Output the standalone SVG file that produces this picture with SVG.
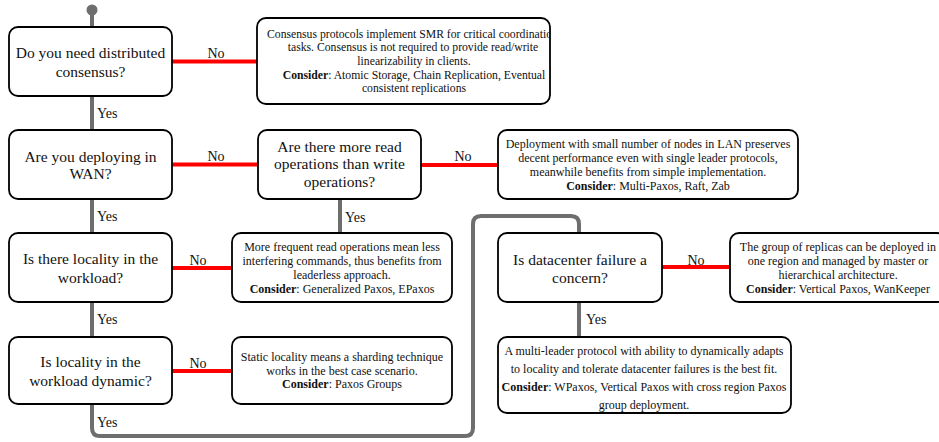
<svg xmlns="http://www.w3.org/2000/svg" width="939" height="442" viewBox="0 0 939 442">
<style>
.box{fill:#fff;stroke:#000;stroke-width:1.8}
.q{font-family:'Liberation Serif','DejaVu Serif',serif;font-size:15.5px;fill:#111;text-anchor:middle}
.d{font-family:'Liberation Serif','DejaVu Serif',serif;font-size:12px;fill:#111;text-anchor:middle}
.s{font-size:11.7px}
.st{text-anchor:start}
.lbl{font-family:'Liberation Serif','DejaVu Serif',serif;font-size:14px;fill:#111}
.no{stroke:#ff0000;stroke-width:4;fill:none}
.yes{stroke:#6e6e6e;stroke-width:4;fill:none}
.b{font-weight:bold}
</style>
<defs>
<clipPath id="clipA1"><rect x="258" y="19" width="291" height="84" rx="8"/></clipPath>
</defs>
<rect width="939" height="442" fill="#fff"/>
<g id="connectors">
<circle cx="92" cy="10" r="5.5" fill="#6e6e6e"/>
<line class="yes" x1="92" y1="10" x2="92" y2="27"/>
<line class="no" x1="172" y1="61.5" x2="257" y2="61.5"/>
<text class="lbl" x="216" y="58" text-anchor="middle">No</text>
<line class="yes" x1="92" y1="96" x2="92" y2="130"/>
<text class="lbl" x="97" y="118">Yes</text>
<line class="no" x1="172" y1="164.5" x2="258" y2="164.5"/>
<text class="lbl" x="216" y="161" text-anchor="middle">No</text>
<line class="no" x1="421" y1="165" x2="498" y2="165"/>
<text class="lbl" x="463" y="161" text-anchor="middle">No</text>
<line class="yes" x1="340" y1="199" x2="340" y2="233"/>
<text class="lbl" x="345" y="221.5">Yes</text>
<line class="yes" x1="92" y1="199" x2="92" y2="233"/>
<text class="lbl" x="97" y="221">Yes</text>
<line class="no" x1="172" y1="268" x2="232" y2="268"/>
<text class="lbl" x="198" y="265" text-anchor="middle">No</text>
<line class="yes" x1="92" y1="302" x2="92" y2="337"/>
<text class="lbl" x="97" y="324">Yes</text>
<line class="no" x1="172" y1="371" x2="232" y2="371"/>
<text class="lbl" x="198" y="368" text-anchor="middle">No</text>
<path class="yes" d="M92,404 V428 Q92,436 100,436 H465 Q473,436 473,428 V224 Q473,216 481,216 H571 Q579,216 579,224 V233"/>
<text class="lbl" x="97" y="427">Yes</text>
<line class="no" x1="662" y1="267" x2="730" y2="267"/>
<text class="lbl" x="696" y="265" text-anchor="middle">No</text>
<line class="yes" x1="579" y1="302" x2="579" y2="337"/>
<text class="lbl" x="586" y="324">Yes</text>
</g>
<g id="q1">
<rect class="box" x="9" y="27" width="163" height="69" rx="9"/>
<text class="q" x="90.5" y="58">Do you need distributed</text>
<text class="q" x="90.5" y="76.5">consensus?</text>
</g>
<g id="a1">
<rect class="box" x="257" y="18" width="293" height="86" rx="9"/>
<g clip-path="url(#clipA1)">
<text class="d s st" x="267" y="37.7">Consensus protocols implement SMR for critical coordination</text>
<text class="d s" x="413" y="51">tasks. Consensus is not required to provide read/write</text>
<text class="d s" x="414" y="64.5">linearizability in clients.</text>
<text class="d s" x="414" y="79"><tspan class="b">Consider</tspan>: Atomic Storage, Chain Replication, Eventual</text>
<text class="d s" x="414" y="91.7">consistent replications</text>
</g>
</g>
<g id="q2">
<rect class="box" x="9" y="130" width="163" height="69" rx="9"/>
<text class="q" x="90.5" y="161.5">Are you deploying in</text>
<text class="q" x="90.5" y="179">WAN?</text>
</g>
<g id="q3">
<rect class="box" x="258" y="130" width="163" height="69" rx="9"/>
<text class="q" x="339.5" y="151.5">Are there more read</text>
<text class="q" x="339.5" y="169">operations than write</text>
<text class="q" x="339.5" y="186.5">operations?</text>
</g>
<g id="a2">
<rect class="box" x="498" y="130" width="300" height="69" rx="9"/>
<text class="d" x="648" y="148">Deployment with small number of nodes in LAN preserves</text>
<text class="d" x="648" y="162">decent performance even with single leader protocols,</text>
<text class="d" x="648" y="176">meanwhile benefits from simple implementation.</text>
<text class="d" x="648" y="190"><tspan class="b">Consider</tspan>: Multi-Paxos, Raft, Zab</text>
</g>
<g id="q4">
<rect class="box" x="9" y="233" width="163" height="69" rx="9"/>
<text class="q" x="90.5" y="264.3">Is there locality in the</text>
<text class="q" x="90.5" y="282.5">workload?</text>
</g>
<g id="a3">
<rect class="box" x="232" y="233" width="220" height="69" rx="9"/>
<text class="d" x="342" y="250.5">More frequent read operations mean less</text>
<text class="d" x="342" y="264.5">interfering commands, thus benefits from</text>
<text class="d" x="342" y="278.5">leaderless approach.</text>
<text class="d" x="342" y="292.5"><tspan class="b">Consider</tspan>: Generalized Paxos, EPaxos</text>
</g>
<g id="q5">
<rect class="box" x="9" y="337" width="163" height="67" rx="9"/>
<text class="q" x="90.5" y="367.3">Is locality in the</text>
<text class="q" x="90.5" y="385.5">workload dynamic?</text>
</g>
<g id="a4">
<rect class="box" x="232" y="337" width="220" height="67" rx="9"/>
<text class="d" x="342" y="360.7">Static locality means a sharding technique</text>
<text class="d" x="342" y="374.5">works in the best case scenario.</text>
<text class="d" x="342" y="388.3"><tspan class="b">Consider</tspan>: Paxos Groups</text>
</g>
<g id="q6">
<rect class="box" x="498" y="233" width="164" height="69" rx="9"/>
<text class="q" x="580" y="265">Is datacenter failure a</text>
<text class="q" x="580" y="282.5">concern?</text>
</g>
<g id="a5">
<rect class="box" x="730" y="233" width="216" height="69" rx="9"/>
<text class="d" x="838" y="251">The group of replicas can be deployed in</text>
<text class="d" x="838" y="265">one region and managed by master or</text>
<text class="d" x="838" y="279">hierarchical architecture.</text>
<text class="d" x="838" y="293"><tspan class="b">Consider</tspan>: Vertical Paxos, WanKeeper</text>
</g>
<g id="a6">
<rect class="box" x="498" y="337" width="293" height="76" rx="9"/>
<text class="d" x="644" y="354.5">A multi-leader protocol with ability to dynamically adapts</text>
<text class="d" x="644" y="372.5">to locality and tolerate datacenter failures is the best fit.</text>
<text class="d" x="644" y="390.5"><tspan class="b">Consider</tspan>: WPaxos, Vertical Paxos with cross region Paxos</text>
<text class="d" x="644" y="408.5">group deployment.</text>
</g>
</svg>
